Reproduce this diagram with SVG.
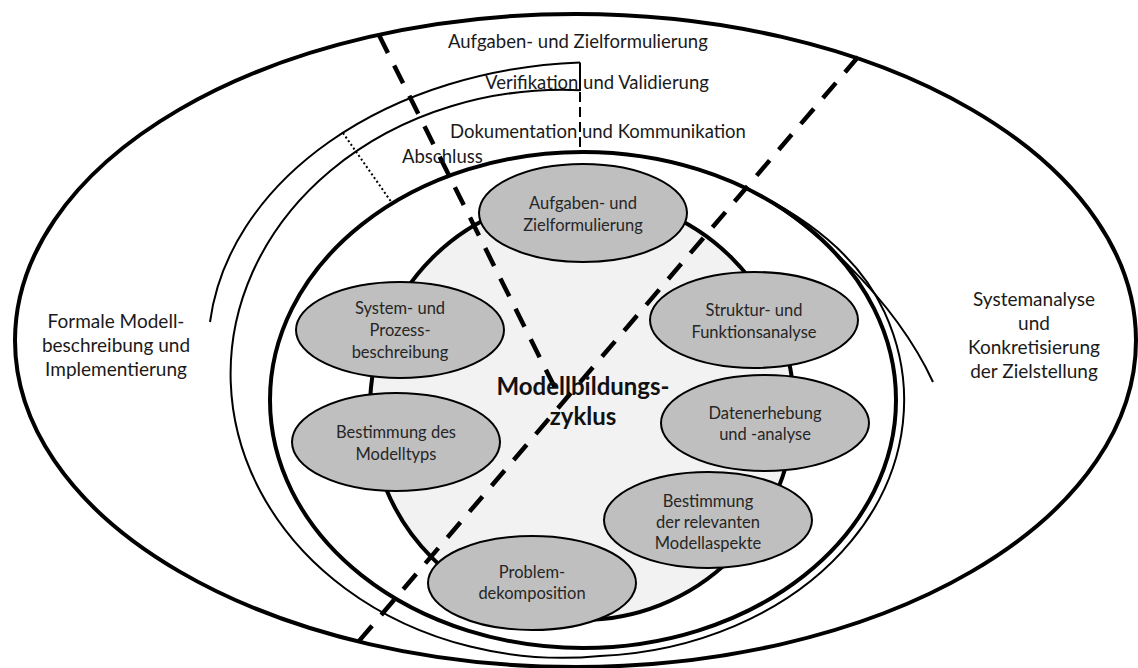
<svg xmlns="http://www.w3.org/2000/svg" width="1138" height="668" viewBox="0 0 1138 668">
  <style>
    .thick{fill:none;stroke:#000;stroke-width:4}
    .thin{fill:none;stroke:#000;stroke-width:2}
    .cut{fill:none;stroke:#000;stroke-width:4.5;stroke-dasharray:20 14}
    .node ellipse{fill:#bfbfbf;stroke:#000;stroke-width:2}
    .node text{font-family:Lato,"Liberation Sans",sans-serif;font-size:16.5px;fill:#262626;text-anchor:middle}
    .lbl{font-family:Lato,"Liberation Sans",sans-serif;font-size:18.5px;fill:#1a1a1a}
    .side{font-family:Lato,"Liberation Sans",sans-serif;font-size:19px;fill:#1a1a1a;text-anchor:middle}
    .core{font-family:Lato,"Liberation Sans",sans-serif;font-size:24px;font-weight:bold;fill:#111;text-anchor:middle}
  </style>
  <rect width="1138" height="668" fill="#fff"/>

  <!-- phase rings around the cycle -->
  <g id="phases">
    <ellipse class="thick" cx="575.5" cy="340.5" rx="560.5" ry="326.5"/>
    <!-- Verifikation und Validierung -->
    <path class="thin" d="M580,62.4 A392,288 0 0 0 210,322"/>
    <path class="thin" d="M739.5,185.2 C807,216 895,300 933,382"/>
    <!-- Dokumentation und Kommunikation -->
    <path class="thin" d="M580,90.2 A332,284 0 1 0 600,656 A321,256 0 0 0 884.6,312.4 C858.8,255.8 803.2,214.4 739.5,185.2"/>
    <path class="thin" d="M580,62.4 V91"/>
    <path class="thin" stroke-dasharray="10 5" d="M580,92 V152"/>
    <!-- Abschluss -->
    <path class="thin" stroke-width="1.8" stroke-dasharray="2 2.5" d="M343,133 L392,203"/>
    <ellipse class="thick" cx="583" cy="400" rx="313" ry="248"/>
    <circle cx="582" cy="408" r="212" fill="#f2f2f2" stroke="#000" stroke-width="4"/>
  </g>

  <!-- dividing lines -->
  <g id="connectors">
    <line class="cut" x1="379" y1="35" x2="555" y2="388"/>
    <line class="cut" x1="858" y1="57" x2="359" y2="641"/>
  </g>

  <g id="node-aufgaben" class="node">
    <ellipse cx="583" cy="213" rx="104" ry="49"/>
    <text x="583" y="209">Aufgaben- und</text>
    <text x="583" y="231">Zielformulierung</text>
  </g>
  <g id="node-system" class="node">
    <ellipse cx="400" cy="330" rx="104" ry="48"/>
    <text x="400" y="314">System- und</text>
    <text x="400" y="336">Prozess-</text>
    <text x="400" y="358">beschreibung</text>
  </g>
  <g id="node-modelltyp" class="node">
    <ellipse cx="396" cy="442" rx="104" ry="49"/>
    <text x="396" y="438">Bestimmung des</text>
    <text x="396" y="460">Modelltyps</text>
  </g>
  <g id="node-struktur" class="node">
    <ellipse cx="754" cy="320" rx="104" ry="48"/>
    <text x="754" y="316">Struktur- und</text>
    <text x="754" y="338">Funktionsanalyse</text>
  </g>
  <g id="node-daten" class="node">
    <ellipse cx="765" cy="423" rx="104" ry="48"/>
    <text x="765" y="419">Datenerhebung</text>
    <text x="765" y="440">und -analyse</text>
  </g>
  <g id="node-aspekte" class="node">
    <ellipse cx="708" cy="520" rx="104" ry="48"/>
    <text x="708" y="507">Bestimmung</text>
    <text x="708" y="528">der relevanten</text>
    <text x="708" y="549">Modellaspekte</text>
  </g>
  <g id="node-problem" class="node">
    <ellipse cx="532" cy="583" rx="104" ry="47"/>
    <text x="532" y="578">Problem-</text>
    <text x="532" y="599">dekomposition</text>
  </g>

  <g id="labels">
    <text class="core" x="583" y="395">Modellbildungs-</text>
    <text class="core" x="583" y="425">zyklus</text>
    <text class="lbl" x="448" y="48">Aufgaben- und Zielformulierung</text>
    <text class="lbl" x="485" y="89">Verifikation und Validierung</text>
    <text class="lbl" x="450" y="138">Dokumentation und Kommunikation</text>
    <text class="lbl" x="402" y="163">Abschluss</text>
    <text class="side" x="116" y="328">Formale Modell-</text>
    <text class="side" x="116" y="352">beschreibung und</text>
    <text class="side" x="116" y="376">Implementierung</text>
    <text class="side" x="1034" y="306">Systemanalyse</text>
    <text class="side" x="1034" y="330">und</text>
    <text class="side" x="1034" y="354">Konkretisierung</text>
    <text class="side" x="1034" y="378">der Zielstellung</text>
  </g>
</svg>
